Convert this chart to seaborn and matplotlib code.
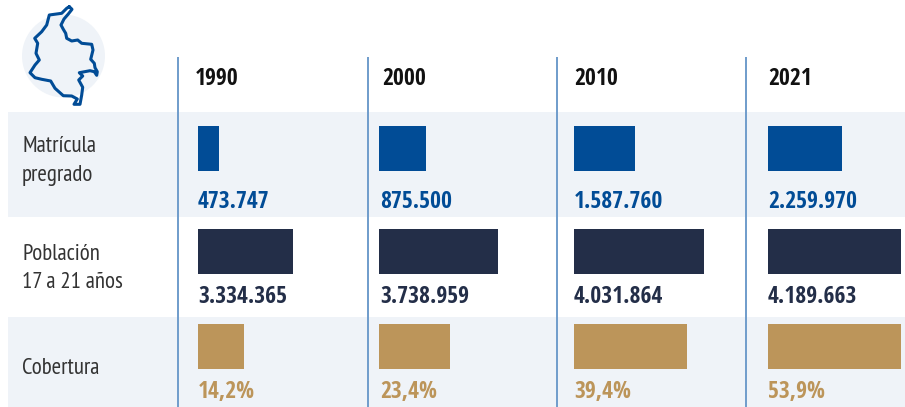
import matplotlib
matplotlib.use("Agg")
import matplotlib.pyplot as plt
import pandas as pd
import seaborn as sns

sns.set_theme(style="white")
NARROW = ["Open Sans Condensed", "PT Sans Narrow", "DejaVu Sans"]
LIGHT = ["PT Sans Narrow", "DejaVu Sans"]
plt.rcParams["font.family"] = NARROW

W, H = 905, 407

years = ["1990", "2000", "2010", "2021"]
row_names = ["Matrícula\npregrado", "Población\n17 a 21 años", "Cobertura"]

# bar lengths as drawn in the original (they are not proportional to the labels)
matricula_len = [21, 47, 61, 74]
poblacion_len = [95, 119, 130, 133]
cobertura_len = [46, 71, 113, 133]

matricula_txt = ["473.747", "875.500", "1.587.760", "2.259.970"]
poblacion_txt = ["3.334.365", "3.738.959", "4.031.864", "4.189.663"]
cobertura_txt = ["14,2%", "23,4%", "39,4%", "53,9%"]

BLUE = "#014c96"
NAVY = "#232e48"
TAN = "#bc955a"
BAND = "#eff3f8"
LINE = "#6f9ccb"

col_left = [198, 379, 574, 768]
label_x = [198, 380, 574, 768]
col_lines = [178, 368, 557, 746]
bar_tops = [126, 229, 324]
label_base = [208, 303, 398]
BAR_H = 45
CELL_W = 137

# outline, in pixels
map_x = [69.3, 72, 68.3, 64, 61, 63.3, 65.7, 66.7, 71.7, 77.7, 81.7, 91.7, 93, 90.7, 94.3, 95, 97.3, 96.7, 94.3,
         90, 79.3, 82.7, 78.7, 82.7, 81.7, 80, 74, 77.3, 71.7, 63.3, 55, 50.7, 41.7, 35, 30, 35, 39.3, 36, 37.7,
         34.7, 41.7, 46.7, 49.3, 61.7, 66.7, 69.3]
map_y = [6.7, 9.3, 14, 19, 25, 29.3, 33.3, 38.3, 41, 40, 43.3, 44.3, 50, 59.3, 63.3, 67.7, 71.7, 75.3, 71.7, 70.7,
         72.7, 76, 80, 87.3, 95, 104.3, 104.3, 99, 96, 95.7, 88.3, 81, 79.3, 77.7, 72.7, 65, 60, 53.3, 43.3, 38.3,
         31.7, 25, 15, 13.3, 8.3, 6.7]

fig = plt.figure(figsize=(W / 100, H / 100), dpi=100)

# background layer in pixel coordinates
bg = fig.add_axes([0, 0, 1, 1])
bg.set_xlim(0, W)
bg.set_ylim(H, 0)
bg.axis("off")
bg.fill_between([8, W], 112, 217, color=BAND, lw=0)
bg.fill_between([8, W], 317, 407, color=BAND, lw=0)
bg.add_patch(plt.Circle((63.5, 56), 41.5, color=BAND, lw=0))
bg.plot(map_x, map_y, color=BLUE, lw=2.2, solid_joinstyle="round")
bg.vlines(col_lines, 57, H, color=LINE, lw=1.4)

for name, y in zip(row_names, [147, 254, 369]):
    for i, part in enumerate(name.split("\n")):
        bg.text(22, y + i * 29, part, fontsize=16.5, family=LIGHT, color="#333333", va="center", ha="left")

rows = [
    (matricula_len, matricula_txt, BLUE),
    (poblacion_len, poblacion_txt, NAVY),
    (cobertura_len, cobertura_txt, TAN),
]

for r, (lengths, labels, color) in enumerate(rows):
    for c, year in enumerate(years):
        cell = pd.DataFrame({"year": [year], "length": [lengths[c]]})
        x0 = col_left[c] / W
        y0 = 1 - (bar_tops[r] + BAR_H) / H
        ax = fig.add_axes([x0, y0, CELL_W / W, BAR_H / H])
        ax.patch.set_alpha(0)
        sns.barplot(data=cell, x="length", y="year", color=color, width=1, saturation=1, linewidth=0, ax=ax)
        ax.set_xlim(0, CELL_W)
        ax.axis("off")
        bg.text(label_x[c], label_base[r], labels[c], fontsize=17, fontweight="bold",
                color=color, va="baseline", ha="left")

header_x = [195, 382, 574, 768]
for c, year in enumerate(years):
    bg.text(header_x[c], 85, year, fontsize=17, fontweight="bold", color="#111111", va="baseline", ha="left")

fig.savefig("out.png", dpi=100)
